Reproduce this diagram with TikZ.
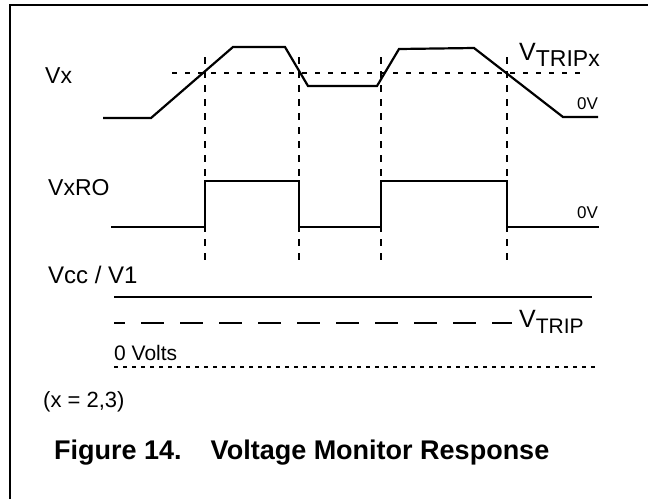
\documentclass[tikz,border=0pt]{standalone}
\usepackage{fontspec}
\setmainfont{Liberation Sans}
\begin{document}
\begin{tikzpicture}[x=1pt, y=-1pt, line join=miter,
		wave/.style={line width=2.2pt},
		edge/.style={line width=1.4pt, dash pattern=on 7pt off 7pt},
		trip/.style={line width=1.4pt, dash pattern=on 5pt off 8pt},
		lbl/.style={inner sep=0pt, anchor=base west, font=\fontsize{23}{27}\selectfont},
		lvl/.style={inner sep=0pt, anchor=base west, font=\fontsize{17}{20}\selectfont}]
		\useasboundingbox (0,0) rectangle (648,499);
		%frame
		\draw[line width=2pt] (10,499) -- (10,5) -- (648,5);
		
		%input signal
		\node[lbl] (vx) at (45,83) {Vx};
		\draw[trip] (172,73) -- (586,73);
		\node[lbl, font=\fontsize{25}{29}\selectfont] (vtripx) at (519,60) {V\raisebox{-6pt}{\fontsize{23}{27}\selectfont TRIPx}};
		\node[lvl] (zero1) at (577,109) {0V};
		\draw[wave] (103,118) -- (151,118) -- (233,47) -- (285,47) -- (308,86)
			-- (377,86) -- (399,49) -- (474,48) -- (563,117) -- (598,117);
		
		%switching points
		\foreach \x in {205, 299, 381, 507}{
			\draw[edge] (\x,57) -- (\x,264);
		}
		
		%output
		\node[lbl] (vxro) at (48,195) {VxRO};
		\node[lvl] (zero2) at (577,218) {0V};
		\draw[wave] (111,227) -- (205,227) -- (205,181) -- (299,181) -- (299,227)
			-- (381,227) -- (381,181) -- (507,181) -- (507,227) -- (599,227);
		
		%supply
		\node[lbl, font=\fontsize{24}{28}\selectfont] (vcc) at (48,283) {Vcc / V1};
		\draw[wave] (114,297) -- (592,297);
		\draw[line width=1.4pt, dash pattern=on 23pt off 16pt, dash phase=12pt] (114,323) -- (512,323);
		\node[lbl, font=\fontsize{25}{29}\selectfont] (vtrip) at (519,327) {V\raisebox{-6pt}{\fontsize{21}{25}\selectfont TRIP}};
		\node[lvl, font=\fontsize{21}{25}\selectfont] (zero) at (114,360) {0 Volts};
		\draw[line width=1.4pt, dash pattern=on 4pt off 5pt] (114,367) -- (596,367);
		
		\node[lvl, font=\fontsize{22}{26}\selectfont] (note) at (43,407) {(x = 2,3)};
		\node[lbl, font=\bfseries\fontsize{27}{31}\selectfont] (cap) at (54,459) {Figure 14.\hspace{29pt}Voltage Monitor Response};
\end{tikzpicture}
\end{document}
